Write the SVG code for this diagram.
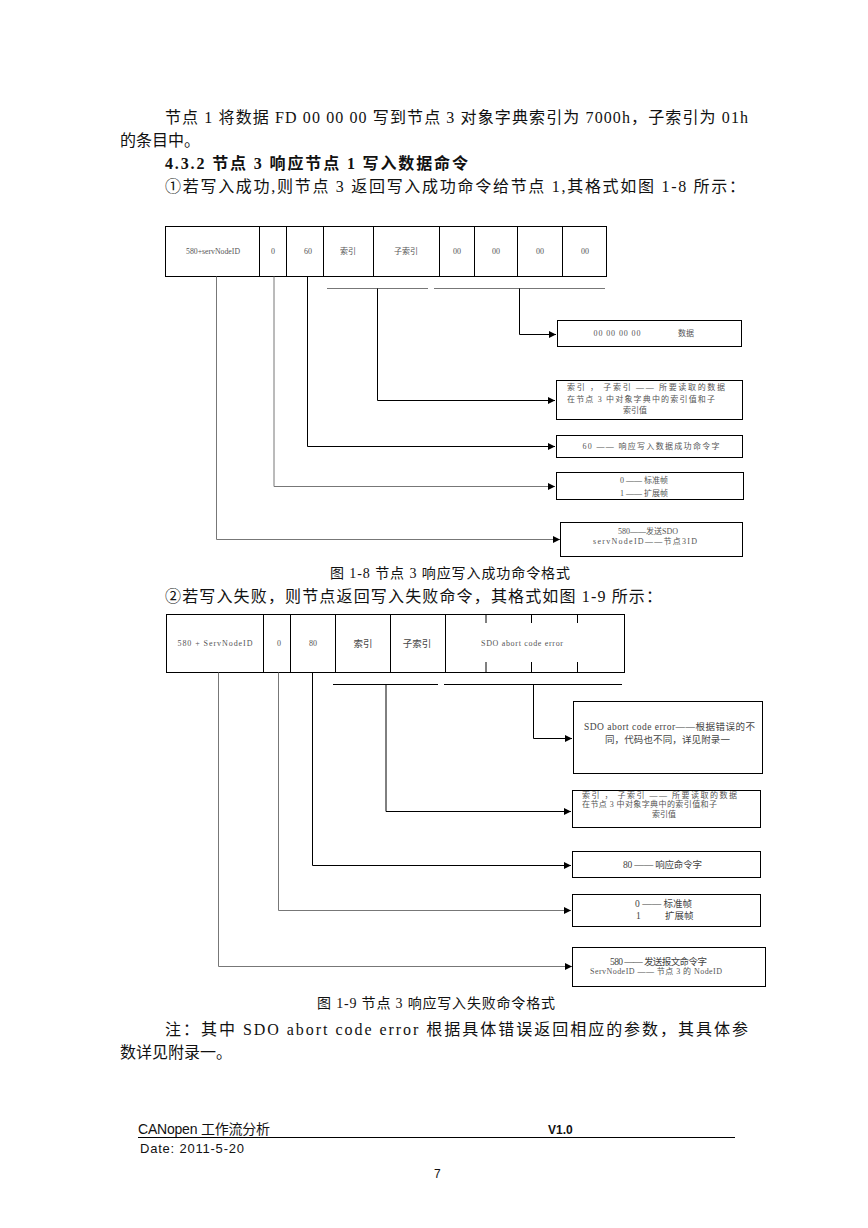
<svg xmlns="http://www.w3.org/2000/svg" width="868" height="1228" viewBox="0 0 868 1228">
<defs>
<marker id="ah" viewBox="0 0 10 10" refX="10" refY="5" markerWidth="9" markerHeight="7" markerUnits="userSpaceOnUse" orient="auto"><path d="M0,0 L10,5 L0,10 z" fill="#000"/></marker>
<style>
.body{font-family:"Liberation Serif","Noto Sans CJK SC",serif;font-size:16px;fill:#111}
.cap{font-family:"Liberation Serif","Noto Sans CJK SC",serif;font-size:14px;fill:#111}
.sm{font-family:"Liberation Serif","Noto Sans CJK SC",serif;font-size:8px;fill:#555}
.sm2{font-family:"Liberation Serif","Noto Sans CJK SC",serif;font-size:9.5px;fill:#444}
.box{fill:#fff;stroke:#000;stroke-width:1}
.cell{stroke:#000;stroke-width:1}
.lk{fill:none;stroke:#000;stroke-width:1}
.lg{fill:none;stroke:#777;stroke-width:1}
.ft{font-family:"Liberation Sans","Noto Sans CJK SC",sans-serif;fill:#111}
</style>
</defs>
<rect width="868" height="1228" fill="#fff"/>

<g id="text-top">
<text class="body" x="165" y="123" textLength="583" lengthAdjust="spacing">节点 1 将数据 FD 00 00 00 写到节点 3 对象字典索引为 7000h，子索引为 01h</text>
<text class="body" x="120" y="146">的条目中。</text>
<text class="body" x="165" y="169" font-weight="bold" textLength="303" lengthAdjust="spacing">4.3.2 节点 3 响应节点 1 写入数据命令</text>
<text class="body" x="165" y="192" textLength="580" lengthAdjust="spacing">①若写入成功,则节点 3 返回写入成功命令给节点 1,其格式如图 1-8 所示：</text>
</g>

<!-- Diagram 1 -->
<g id="d1-header">
<rect class="box" x="165.5" y="226.5" width="441" height="50"/>
<line class="cell" x1="259.5" y1="226.5" x2="259.5" y2="276.5"/>
<line class="cell" x1="286.5" y1="226.5" x2="286.5" y2="276.5"/>
<line class="cell" x1="323.5" y1="226.5" x2="323.5" y2="276.5"/>
<line class="cell" x1="373.5" y1="226.5" x2="373.5" y2="276.5"/>
<line class="cell" x1="439.5" y1="226.5" x2="439.5" y2="276.5"/>
<line class="cell" x1="474.5" y1="226.5" x2="474.5" y2="276.5"/>
<line class="cell" x1="517.5" y1="226.5" x2="517.5" y2="276.5"/>
<line class="cell" x1="562.5" y1="226.5" x2="562.5" y2="276.5"/>
<text class="sm" x="213" y="254" text-anchor="middle" textLength="54" lengthAdjust="spacingAndGlyphs">580+servNodeID</text>
<text class="sm" x="273" y="254" text-anchor="middle">0</text>
<text class="sm" x="308" y="254" text-anchor="middle">60</text>
<text class="sm" x="348" y="254" text-anchor="middle">索引</text>
<text class="sm" x="406" y="254" text-anchor="middle">子索引</text>
<text class="sm" x="457" y="254" text-anchor="middle">00</text>
<text class="sm" x="496" y="254" text-anchor="middle">00</text>
<text class="sm" x="540" y="254" text-anchor="middle">00</text>
<text class="sm" x="585" y="254" text-anchor="middle">00</text>
</g>

<g id="d1-connectors">
<line class="lg" x1="327" y1="288.5" x2="428" y2="288.5"/>
<line class="lg" x1="434" y1="288.5" x2="605" y2="288.5"/>
<polyline class="lk" points="519.5,288.5 519.5,334.5 556,334.5" marker-end="url(#ah)"/>
<polyline class="lk" points="377.5,288.5 377.5,400.5 555,400.5" marker-end="url(#ah)"/>
<polyline class="lk" points="307.5,276.5 307.5,446.5 555,446.5" marker-end="url(#ah)"/>
<polyline class="lg" points="274,276.5 274,486.5 555,486.5" marker-end="url(#ah)"/>
<polyline class="lg" points="216.5,276.5 216.5,539.5 560,539.5" marker-end="url(#ah)"/>
</g>

<g id="d1-data">
<rect class="box" x="557.5" y="320.5" width="184" height="26"/>
<text class="sm" x="617" y="336" text-anchor="middle" textLength="47" lengthAdjust="spacing">00 00 00 00</text>
<text class="sm" x="686" y="336" text-anchor="middle">数据</text>
</g>
<g id="d1-index">
<rect class="box" x="556.5" y="380.5" width="186" height="39"/>
<text class="sm" x="567" y="389.5" textLength="158" lengthAdjust="spacing">索引 ， 子索引 —— 所要读取的数据</text>
<text class="sm" x="567" y="402" textLength="148" lengthAdjust="spacing">在节点 3 中对象字典中的索引值和子</text>
<text class="sm" x="635" y="413" text-anchor="middle">索引值</text>
</g>
<g id="d1-cmd">
<rect class="box" x="556.5" y="435.5" width="186" height="22"/>
<text class="sm" x="651" y="449" text-anchor="middle" textLength="137" lengthAdjust="spacing">60 —— 响应写入数据成功命令字</text>
</g>
<g id="d1-frame">
<rect class="box" x="556.5" y="472.5" width="187" height="27"/>
<text class="sm" x="620" y="483">0 —— 标准帧</text>
<text class="sm" x="620" y="496">1 —— 扩展帧</text>
</g>
<g id="d1-sdo">
<rect class="box" x="560.5" y="522.5" width="182" height="34"/>
<text class="sm" x="648" y="534" text-anchor="middle">580——发送SDO</text>
<text class="sm" x="645" y="544" text-anchor="middle" textLength="104" lengthAdjust="spacing">servNodeID——节点3ID</text>
</g>

<g id="text-mid">
<text class="cap" x="330" y="578" textLength="240" lengthAdjust="spacing">图 1-8 节点 3 响应写入成功命令格式</text>
<text class="body" x="165" y="602" textLength="497" lengthAdjust="spacing">②若写入失败，则节点返回写入失败命令，其格式如图 1-9 所示：</text>
</g>

<!-- Diagram 2 -->
<g id="d2-header">
<rect class="box" x="166.5" y="614.5" width="458" height="58"/>
<line class="cell" x1="263.5" y1="614.5" x2="263.5" y2="672.5"/>
<line class="cell" x1="290.5" y1="614.5" x2="290.5" y2="672.5"/>
<line class="cell" x1="335.5" y1="614.5" x2="335.5" y2="672.5"/>
<line class="cell" x1="390.5" y1="614.5" x2="390.5" y2="672.5"/>
<line class="cell" x1="445.5" y1="614.5" x2="445.5" y2="672.5"/>
<line class="cell" x1="486" y1="614.5" x2="486" y2="623"/>
<line class="cell" x1="486" y1="662" x2="486" y2="672.5"/>
<line class="cell" x1="531.5" y1="614.5" x2="531.5" y2="623"/>
<line class="cell" x1="531.5" y1="662" x2="531.5" y2="672.5"/>
<line class="cell" x1="577.5" y1="614.5" x2="577.5" y2="623"/>
<line class="cell" x1="577.5" y1="662" x2="577.5" y2="672.5"/>
<text class="sm" x="215" y="646" text-anchor="middle" textLength="75" lengthAdjust="spacing">580 + ServNodeID</text>
<text class="sm" x="279" y="646" text-anchor="middle">0</text>
<text class="sm" x="313" y="646" text-anchor="middle">80</text>
<text class="sm2" x="363" y="647" text-anchor="middle">索引</text>
<text class="sm2" x="417" y="647" text-anchor="middle">子索引</text>
<text class="sm" x="522" y="646" text-anchor="middle" textLength="82" lengthAdjust="spacing">SDO abort code error</text>
</g>

<g id="d2-connectors">
<line class="lk" x1="333" y1="684.5" x2="438" y2="684.5"/>
<line class="lk" x1="444" y1="684.5" x2="622" y2="684.5"/>
<polyline class="lk" points="533.5,684.5 533.5,738.5 572,738.5" marker-end="url(#ah)"/>
<polyline class="lk" points="386,684.5 386,811.5 571,811.5" marker-end="url(#ah)"/>
<polyline class="lk" points="312.5,672.5 312.5,865.5 571,865.5" marker-end="url(#ah)"/>
<polyline class="lg" points="278.5,672.5 278.5,910.5 571,910.5" marker-end="url(#ah)"/>
<polyline class="lg" points="218.5,672.5 218.5,966.5 572,966.5" marker-end="url(#ah)"/>
</g>

<g id="d2-abort">
<rect class="box" x="573.5" y="701.5" width="189" height="72"/>
<text class="sm2" x="584" y="730" textLength="171" lengthAdjust="spacing">SDO abort code error——根据错误的不</text>
<text class="sm2" x="605" y="743" textLength="125" lengthAdjust="spacing">同，代码也不同，详见附录一</text>
</g>
<g id="d2-index">
<rect class="box" x="572.5" y="790.5" width="188" height="37"/>
<text class="sm" x="582" y="798" textLength="155" lengthAdjust="spacing">索引 ， 子索引 —— 所要读取的数据</text>
<text class="sm" x="582" y="807" textLength="135" lengthAdjust="spacing">在节点 3 中对象字典中的索引值和子</text>
<text class="sm" x="664" y="816.5" text-anchor="middle">索引值</text>
</g>
<g id="d2-cmd">
<rect class="box" x="572.5" y="851.5" width="188" height="26"/>
<text class="sm2" x="623" y="868" textLength="79" lengthAdjust="spacing">80 —— 响应命令字</text>
</g>
<g id="d2-frame">
<rect class="box" x="572.5" y="894.5" width="188" height="32"/>
<text class="sm2" x="635" y="907">0 —— 标准帧</text>
<text class="sm2" x="636" y="919">1</text>
<text class="sm2" x="665" y="919">扩展帧</text>
</g>
<g id="d2-sdo">
<rect class="box" x="572.5" y="947.5" width="193" height="39"/>
<text class="sm2" x="610" y="965" textLength="97" lengthAdjust="spacing">580 —— 发送报文命令字</text>
<text class="sm" x="590" y="974" textLength="132" lengthAdjust="spacing">ServNodeID —— 节点 3 的 NodeID</text>
</g>

<g id="text-bottom">
<text class="cap" x="317" y="1008" textLength="238" lengthAdjust="spacing">图 1-9 节点 3 响应写入失败命令格式</text>
<text class="body" x="165" y="1035" textLength="583" lengthAdjust="spacing">注：其中 SDO abort code error 根据具体错误返回相应的参数，其具体参</text>
<text class="body" x="120" y="1058">数详见附录一。</text>
</g>

<g id="footer">
<text class="ft" x="138" y="1134" font-size="14" textLength="132" lengthAdjust="spacing">CANopen 工作流分析</text>
<text class="ft" x="548" y="1134" font-size="12" font-weight="bold">V1.0</text>
<line x1="138" y1="1137.5" x2="735" y2="1137.5" stroke="#000" stroke-width="1"/>
<text class="ft" x="140" y="1153" font-size="13" textLength="104" lengthAdjust="spacing">Date: 2011-5-20</text>
<text class="ft" x="434" y="1178" font-size="12">7</text>
</g>
</svg>
